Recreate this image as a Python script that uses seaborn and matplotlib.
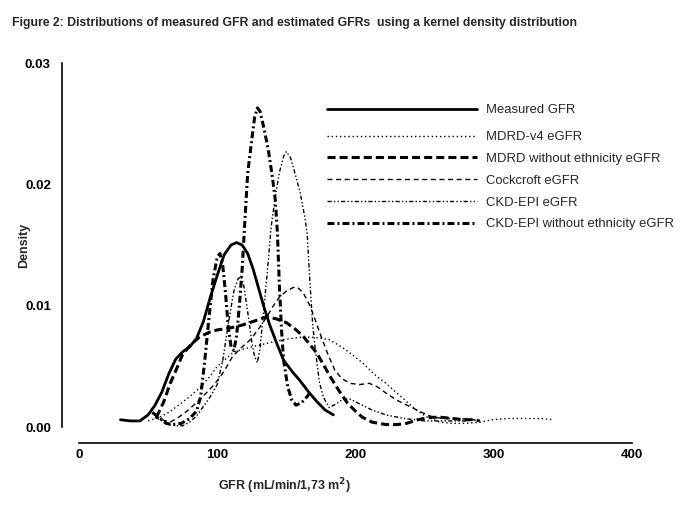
import matplotlib
matplotlib.use("Agg")
import matplotlib.pyplot as plt
import seaborn as sns
import pandas as pd

# ---------------- data ----------------
measured_x = [30, 37, 44, 50, 55, 60, 65, 70, 75, 80, 85, 90, 95, 100, 105, 110, 114, 118,
              122, 126, 130, 134, 138, 143, 148, 154, 160, 166, 172, 178, 184]
measured_y = [0.0006, 0.0005, 0.0005, 0.0010, 0.0018, 0.0029, 0.0044, 0.0056, 0.0062, 0.0066,
              0.0073, 0.0087, 0.0107, 0.0125, 0.0142, 0.0150, 0.0152, 0.0150, 0.0143, 0.0130,
              0.0114, 0.0098, 0.0084, 0.0069, 0.0055, 0.0046, 0.0038, 0.0029, 0.0021, 0.0014,
              0.0010]

mdrd4_x = [50, 58, 65, 72, 80, 88, 95, 100, 106, 111, 118, 125, 136, 148, 160, 170, 181, 190,
           196, 205, 213, 222, 230, 237, 244, 252, 261, 270, 280, 290, 299, 310, 324, 334, 343]
mdrd4_y = [0.0005, 0.0008, 0.0012, 0.0018, 0.0025, 0.0033, 0.0042, 0.0050, 0.0056, 0.0061,
           0.0064, 0.0066, 0.0069, 0.0072, 0.0074, 0.0074, 0.0072, 0.0066, 0.0061, 0.0053,
           0.0044, 0.0036, 0.0028, 0.0021, 0.0014, 0.0008, 0.0004, 0.0003, 0.0003, 0.0004,
           0.0006, 0.0007, 0.0007, 0.0007, 0.0006]

mdrd_noeth_x = [56, 61, 66, 71, 75, 81, 87, 94, 100, 106, 111, 118, 126, 131, 136, 143, 150,
                156, 162, 167, 172, 176, 182, 188, 194, 200, 205, 212, 222, 230, 237, 245,
                254, 262, 270, 278, 285, 290]
mdrd_noeth_y = [0.0008, 0.0020, 0.0036, 0.0049, 0.0060, 0.0068, 0.0074, 0.0078, 0.0080,
                0.0081, 0.0082, 0.0084, 0.0087, 0.0089, 0.0091, 0.0089, 0.0086, 0.0081,
                0.0075, 0.0068, 0.0061, 0.0053, 0.0041, 0.0030, 0.0020, 0.0013, 0.0008,
                0.0004, 0.0002, 0.0002, 0.0003, 0.0006, 0.0008, 0.0008, 0.0007, 0.0006,
                0.0006, 0.0005]

cockcroft_x = [55, 60, 66, 72, 78, 85, 92, 97, 102, 106, 111, 117, 124, 130, 136, 140, 145,
               150, 155, 158, 162, 167, 171, 175, 180, 185, 190, 196, 203, 210, 216, 222,
               230, 239, 248, 256, 265, 275, 285, 290]
cockcroft_y = [0.0010, 0.0006, 0.0004, 0.0008, 0.0013, 0.0020, 0.0028, 0.0034, 0.0041,
               0.0048, 0.0058, 0.0065, 0.0072, 0.0081, 0.0091, 0.0099, 0.0107, 0.0112,
               0.0115, 0.0115, 0.0111, 0.0100, 0.0088, 0.0075, 0.0060, 0.0047, 0.0040,
               0.0036, 0.0035, 0.0036, 0.0033, 0.0028, 0.0022, 0.0017, 0.0012, 0.0008,
               0.0007, 0.0007, 0.0006, 0.0005]

ckdepi_x = [55, 60, 65, 70, 75, 80, 85, 90, 95, 100, 104, 108, 112, 115, 117, 119, 122, 125,
            127, 129, 131, 133, 136, 139, 142, 145, 148, 150, 153, 156, 160, 163, 165, 167,
            169, 171, 174, 177, 181, 186, 191, 196, 203, 212, 222, 235, 250, 265, 280]
ckdepi_y = [0.0008, 0.0005, 0.0002, 0.0001, 0.0001, 0.0004, 0.0009, 0.0017, 0.0025, 0.0035,
            0.0055, 0.0085, 0.0112, 0.0122, 0.0124, 0.0118, 0.0095, 0.0070, 0.0058, 0.0053,
            0.0065, 0.0090, 0.0125, 0.0165, 0.0190, 0.0210, 0.0223, 0.0227, 0.0222, 0.0210,
            0.0193, 0.0175, 0.0160, 0.0120, 0.0085, 0.0063, 0.0036, 0.0024, 0.0016, 0.0019,
            0.0023, 0.0023, 0.0019, 0.0014, 0.0010, 0.0007, 0.0005, 0.0005, 0.0005]

ckdepi_noeth_x = [53, 58, 63, 68, 74, 80, 85, 88, 91, 94, 97, 100, 102, 104, 106, 108, 110,
                  112, 114, 116, 118, 120, 122, 125, 127, 129, 131, 134, 137, 140, 142, 143.5,
                  145, 146.5, 148, 151, 154, 157, 161, 165, 168]
ckdepi_noeth_y = [0.0012, 0.0008, 0.0003, 0.0002, 0.0003, 0.0007, 0.0013, 0.0025, 0.0055,
                  0.0090, 0.0122, 0.0140, 0.0143, 0.0133, 0.0110, 0.0082, 0.0066, 0.0063,
                  0.0075, 0.0100, 0.0130, 0.0170, 0.0209, 0.0237, 0.0255, 0.0263, 0.0260,
                  0.0245, 0.0228, 0.0205, 0.0187, 0.0160, 0.0115, 0.0080, 0.0055, 0.0033,
                  0.0022, 0.0018, 0.0020, 0.0025, 0.0030]

series_names = ["Measured GFR", "MDRD-v4 eGFR", "MDRD without ethnicity eGFR",
                "Cockcroft eGFR", "CKD-EPI eGFR", "CKD-EPI without ethnicity eGFR"]
x_ticks = [0, 100, 200, 300, 400]
x_ticklabels = ["0", "100", "200", "300", "400"]
y_ticks = [0.00, 0.01, 0.02, 0.03]
y_ticklabels = ["0.00", "0.01", "0.02", "0.03"]

# ---------------- styling ----------------
sns.set_style("white")
plt.rcParams["font.family"] = ["Liberation Sans", "DejaVu Sans"]
plt.rcParams["font.weight"] = "bold"
plt.rcParams["lines.scale_dashes"] = False

fig = plt.figure(figsize=(6.85, 5.13), dpi=100)
W, H = 685, 513
PX = 72 / 100  # points per pixel
ax = fig.add_axes([79 / W, 1 - 427 / H, (632 - 79) / W, (427 - 63) / H])

data = [(measured_x, measured_y), (mdrd4_x, mdrd4_y), (mdrd_noeth_x, mdrd_noeth_y),
        (cockcroft_x, cockcroft_y), (ckdepi_x, ckdepi_y), (ckdepi_noeth_x, ckdepi_noeth_y)]
styles = [
    dict(linestyle="-", linewidth=2.0),
    dict(linestyle=(0, (1.0, 2.0)), linewidth=1.0),
    dict(linestyle=(0, (5.8, 2.9)), linewidth=2.2),
    dict(linestyle=(0, (3.6, 2.6)), linewidth=1.0),
    dict(linestyle=(0, (3.0, 1.6, 1.0, 1.6, 1.0, 1.6)), linewidth=1.0),
    dict(linestyle=(0, (5.0, 2.2, 1.4, 2.2)), linewidth=2.2),
]

frames = []
for name, (xs, ys) in zip(series_names, data):
    frames.append(pd.DataFrame({"GFR": xs, "Density": ys, "series": name}))
df = pd.concat(frames, ignore_index=True)

for name, st in zip(series_names, styles):
    sub = df[df["series"] == name]
    sns.lineplot(data=sub, x="GFR", y="Density", ax=ax, color="black", label=name,
                 estimator=None, sort=False, **st)

ax.set_xlim(0, 400)
ax.set_ylim(0, 0.03)
ax.set_xticks(x_ticks)
ax.set_xticklabels(x_ticklabels)
ax.set_yticks(y_ticks)
ax.set_yticklabels(y_ticklabels)

ax.spines["top"].set_visible(False)
ax.spines["right"].set_visible(False)
ax.spines["left"].set_position(("outward", 17 * PX))
ax.spines["bottom"].set_position(("outward", 16 * PX))
for s in ("left", "bottom"):
    ax.spines[s].set_color("black")
    ax.spines[s].set_linewidth(1.2)
ax.tick_params(axis="y", direction="out", length=4, width=1.2, colors="black", pad=4,
               labelsize=9.5)
ax.tick_params(axis="x", direction="in", length=4, width=1.2, colors="black", pad=4,
               labelsize=9.5)
ax.grid(False)

ax.set_xlabel("GFR (mL/min/1,73 m$^2$)", fontsize=9, fontweight="bold")
ax.xaxis.set_label_coords((285 - 79) / (632 - 79), -0.135)
ax.set_ylabel("Density", fontsize=9, fontweight="bold")
ax.yaxis.set_label_coords(-0.088, 0.5)

handles, labels = ax.get_legend_handles_labels()
leg_kw = dict(loc="upper left", bbox_transform=fig.transFigure, frameon=False,
              prop={"weight": "normal", "size": 9.4},
              handlelength=11.5, handletextpad=0.65, labelspacing=0.74,
              borderpad=0, borderaxespad=0)
leg1 = ax.legend(handles[:1], labels[:1], bbox_to_anchor=(327 / W, 1 - 104 / H), **leg_kw)
ax.add_artist(leg1)
ax.legend(handles[1:], labels[1:], bbox_to_anchor=(327 / W, 1 - 131 / H), **leg_kw)

fig.text(12 / W, 1 - 23 / H,
         "Figure 2: Distributions of measured GFR and estimated GFRs  using a kernel density distribution",
         fontsize=8.8, fontweight="bold", va="center", ha="left")

fig.savefig("out.png", dpi=100)
